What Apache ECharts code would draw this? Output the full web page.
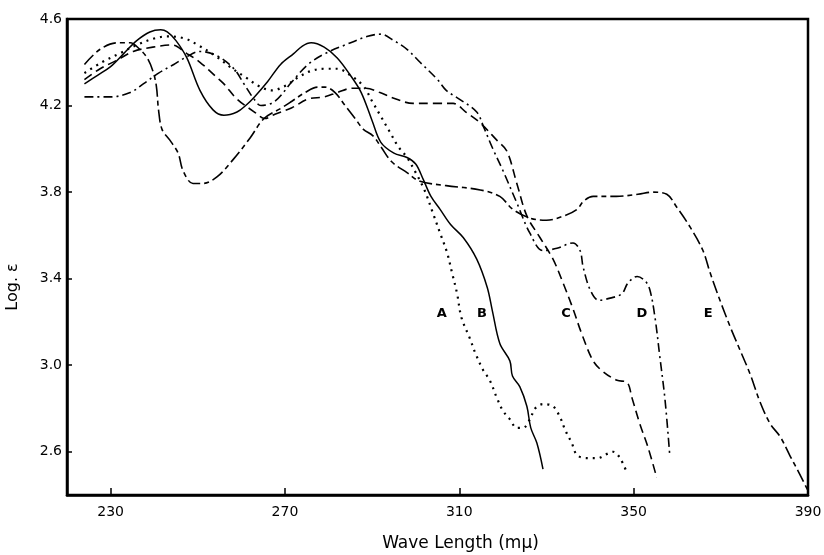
<!DOCTYPE html>
<html>
<head>
<meta charset="utf-8">
<script src="https://cdn.jsdelivr.net/npm/echarts@6/dist/echarts.min.js"></script>
<style>
	html, body { margin: 0; padding: 0; background: #fff; }
	#container { width: 824px; height: 555px; }
</style>
</head>
<body>
<div id="container"></div>
<script>
// tick values of the two axes
var waveTicks = [230, 270, 310, 350, 390];
var logTicks = [2.6, 3.0, 3.4, 3.8, 4.2, 4.6];

// curves: [wave length, log e]
var curveA = [
	[224, 4.35], [228, 4.40], [232, 4.44], [236, 4.48], [240, 4.51], [243, 4.52], [247, 4.51],
	[250, 4.48], [254, 4.43], [258, 4.37], [261, 4.33], [264, 4.29], [267, 4.27], [270, 4.29],
	[273, 4.33], [276, 4.36], [279, 4.37], [282, 4.37], [285, 4.34], [288, 4.29], [290, 4.22],
	[292, 4.15], [294, 4.08], [296, 4.01], [298, 3.96], [300, 3.89], [302, 3.81], [304, 3.70],
	[305.6, 3.61], [307.2, 3.52], [308.3, 3.43], [309.5, 3.33], [310.5, 3.22], [312.5, 3.12],
	[313.6, 3.06], [315.4, 2.98], [317, 2.93], [318.6, 2.85], [320, 2.79], [321.6, 2.75],
	[323.2, 2.71], [324.6, 2.71], [326.2, 2.75], [327.4, 2.80], [329.2, 2.82], [331.5, 2.81],
	[333.1, 2.76], [334.3, 2.70], [335.8, 2.64], [337, 2.585], [339.3, 2.57], [341.6, 2.57],
	[343.9, 2.59], [345.3, 2.60], [346.9, 2.57], [348.5, 2.50]
];
var curveB = [
	[224, 4.30], [227, 4.34], [230, 4.38], [233, 4.44], [236, 4.50], [239, 4.54], [241.5, 4.55],
	[243, 4.54], [245, 4.50], [247.5, 4.42], [250.5, 4.27], [253.5, 4.18], [256, 4.155],
	[259, 4.17], [261, 4.20], [263, 4.24], [266, 4.31], [269, 4.39], [272, 4.44], [274, 4.475],
	[276, 4.49], [279, 4.47], [282, 4.42], [285, 4.34], [287.5, 4.26], [290, 4.13], [292, 4.03],
	[295, 3.98], [298, 3.96], [300, 3.93], [301.7, 3.86], [303.5, 3.78], [305.6, 3.72],
	[308, 3.65], [310.9, 3.59], [314, 3.49], [316.4, 3.36], [317.6, 3.25], [319.3, 3.10],
	[321.6, 3.02], [322.2, 2.95], [323.9, 2.90], [325.5, 2.81], [326.4, 2.71], [327.8, 2.64],
	[329.2, 2.52]
];
var curveC = [
	[224, 4.32], [227.6, 4.37], [231.5, 4.41], [235.2, 4.45], [239.7, 4.47], [244, 4.48],
	[247.5, 4.44], [250.5, 4.40], [254.4, 4.33], [256, 4.30], [259, 4.23], [263, 4.17],
	[265.4, 4.14], [267.7, 4.16], [271.6, 4.19], [275.3, 4.23], [279, 4.24], [282, 4.26],
	[285.4, 4.28], [288.6, 4.28], [291.8, 4.26], [294.8, 4.235], [299.4, 4.21], [304, 4.21],
	[308.6, 4.21], [311.5, 4.17], [314.8, 4.12], [318.6, 4.04], [320.9, 3.99], [323.2, 3.84],
	[325.5, 3.69], [328.5, 3.59], [331.5, 3.49], [333.8, 3.38], [336.1, 3.26], [338, 3.15],
	[340.7, 3.02], [343, 2.97], [346.2, 2.93], [348.5, 2.92], [349.6, 2.85], [351.4, 2.73],
	[353.3, 2.62], [355.3, 2.48]
];
var curveD = [
	[224, 4.24], [230, 4.24], [234.5, 4.26], [237.5, 4.30], [241, 4.35], [244.5, 4.39],
	[247, 4.42], [250.5, 4.45], [254.4, 4.43], [258.3, 4.37], [260.6, 4.30], [262.9, 4.23],
	[264.5, 4.20], [267.7, 4.22], [271.6, 4.31], [275.3, 4.39], [279.2, 4.44], [283.8, 4.48],
	[289, 4.52], [292, 4.53], [295, 4.50], [298, 4.46], [301, 4.40], [305, 4.32], [307, 4.27],
	[310, 4.23], [314, 4.17], [315.6, 4.10], [317.7, 4.00], [320, 3.90], [323.2, 3.75],
	[326.2, 3.61], [329.2, 3.53], [332.4, 3.54], [336.1, 3.565], [337.7, 3.53], [338.4, 3.455],
	[340, 3.35], [342, 3.30], [344.6, 3.31], [347.3, 3.33], [348.7, 3.38], [350.8, 3.41],
	[352.6, 3.39], [353.7, 3.35], [354.9, 3.22], [356, 3.04], [357.2, 2.84], [358.3, 2.58]
];
var curveE = [
	[224, 4.39], [227.6, 4.46], [231.5, 4.49], [234.5, 4.49], [236.7, 4.46], [238.4, 4.42],
	[239.7, 4.36], [240.5, 4.29], [241, 4.18], [241.8, 4.09], [243.6, 4.04], [245.5, 3.98],
	[246.6, 3.90], [248.9, 3.84], [251.2, 3.84], [254.4, 3.87], [258.1, 3.95], [262, 4.05],
	[265.2, 4.14], [269.3, 4.19], [271.6, 4.22], [274.6, 4.26], [277.5, 4.285], [279.2, 4.285],
	[281.5, 4.26], [283.8, 4.20], [286.1, 4.14], [288, 4.09], [290.2, 4.06], [292, 4.01],
	[294.5, 3.94], [298, 3.89], [301, 3.85], [307, 3.83], [314.8, 3.81], [319.3, 3.78],
	[322.3, 3.72], [326.2, 3.68], [330, 3.67], [334, 3.69], [337, 3.72], [338.6, 3.76],
	[340.7, 3.78], [346, 3.78], [351, 3.79], [354.4, 3.80], [357.6, 3.79], [359.9, 3.73],
	[362.9, 3.64], [365.9, 3.53], [367.5, 3.43], [369.8, 3.30], [372.1, 3.18], [374.4, 3.07],
	[376.7, 2.96], [379, 2.83], [381.3, 2.73], [383.6, 2.67], [385.9, 2.58], [388, 2.50],
	[390, 2.42]
];

// curve letters and where they sit
var labelNames = ['A', 'B', 'C', 'D', 'E'];
var labelWave = [306.0, 315.2, 334.5, 351.9, 367.1];
var labelLog = [3.24, 3.24, 3.24, 3.24, 3.24];

(function() {
	var dom = document.getElementById("container");
	var myChart = echarts.init(dom, null, { renderer: 'canvas' });
	var font = '"DejaVu Sans", sans-serif';

	function curve(name, data, type, width) {
		return {
			name: name,
			type: 'line',
			data: data,
			smooth: 0.35,
			symbol: 'none',
			silent: true,
			animation: false,
			lineStyle: { color: '#000', width: width, type: type }
		};
	}

	var labelData = labelNames.map(function(n, i) {
		return { name: n, value: [labelWave[i], labelLog[i]] };
	});

	var option = {
		backgroundColor: '#fff',
		animation: false,
		grid: {
			left: 67, right: 16, top: 19, bottom: 60,
			outerBoundsMode: 'none',
			containLabel: false,
			show: true, borderColor: '#000', borderWidth: 2.5
		},
		xAxis: {
			type: 'value',
			min: 220, max: 390,
			name: 'Wave Length (mμ)',
			nameLocation: 'middle',
			nameGap: 40,
			nameTextStyle: { fontFamily: font, fontSize: 17, color: '#000', padding: [0, 0, 0, 46] },
			axisLine: { lineStyle: { color: '#000', width: 2.5 } },
			axisTick: { inside: true, length: 7, customValues: waveTicks, lineStyle: { color: '#000', width: 1.5 } },
			axisLabel: { customValues: waveTicks, margin: 10, fontFamily: font, fontSize: 14, color: '#000' },
			splitLine: { show: false }
		},
		yAxis: {
			type: 'value',
			min: 2.4, max: 4.6,
			name: 'Log. ε',
			nameLocation: 'middle',
			nameGap: 46,
			nameRotate: 90,
			nameTextStyle: { fontFamily: font, fontSize: 16, color: '#000', padding: [0, 60, 0, 0] },
			axisLine: { lineStyle: { color: '#000', width: 2.5 } },
			axisTick: { inside: true, length: 5, customValues: logTicks, lineStyle: { color: '#000', width: 1.5 } },
			axisLabel: {
				customValues: logTicks, margin: 5, fontFamily: font, fontSize: 14, color: '#000',
				formatter: function(v) { return v.toFixed(1); }
			},
			splitLine: { show: false }
		},
		series: [
			curve('A', curveA, [2, 5], 2.2),
			curve('B', curveB, 'solid', 1.5),
			curve('C', curveC, [9, 5], 1.6),
			curve('D', curveD, [9, 4, 2, 4], 1.6),
			curve('E', curveE, [13, 4, 5, 4], 1.6),
			{
				type: 'scatter',
				data: labelData,
				symbolSize: 1,
				itemStyle: { opacity: 0 },
				silent: true,
				label: {
					show: true,
					position: 'inside',
					formatter: '{b}',
					fontFamily: font,
					fontSize: 13,
					fontWeight: 'bold',
					color: '#000',
					opacity: 1
				}
			}
		]
	};

	if (option && typeof option === "object") {
		myChart.setOption(option, true);
	}
})();
</script>
</body>
</html>
